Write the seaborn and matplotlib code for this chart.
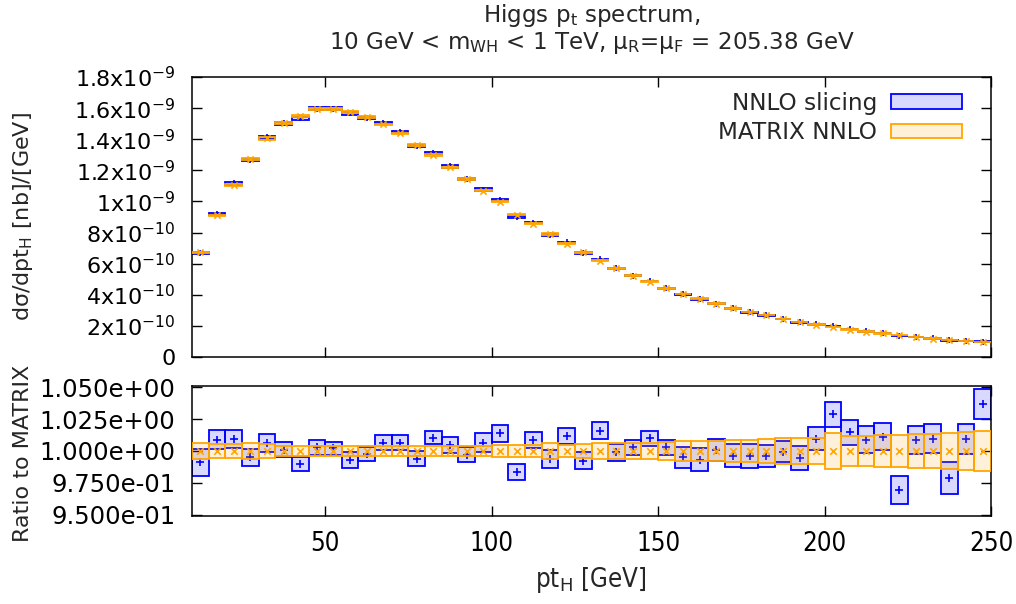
import numpy as np
import pandas as pd
import matplotlib
matplotlib.use("Agg")
import matplotlib.pyplot as plt
import seaborn as sns
from matplotlib.patches import Patch

# ---------------- data ----------------
bin_centers = [12.5, 17.5, 22.5, 27.5, 32.5, 37.5, 42.5, 47.5, 52.5, 57.5, 62.5, 67.5,
               72.5, 77.5, 82.5, 87.5, 92.5, 97.5, 102.5, 107.5, 112.5, 117.5, 122.5, 127.5,
               132.5, 137.5, 142.5, 147.5, 152.5, 157.5, 162.5, 167.5, 172.5, 177.5, 182.5, 187.5,
               192.5, 197.5, 202.5, 207.5, 212.5, 217.5, 222.5, 227.5, 232.5, 237.5, 242.5, 247.5]
bin_width = 5.0

# MATRIX NNLO differential cross section [units of 1e-10 nb/GeV]
matrix_vals_e10 = [6.73, 9.11, 11.05, 12.72, 14.05, 15.02, 15.50, 15.92, 15.94, 15.77, 15.40, 14.95,
                   14.37, 13.65, 13.00, 12.19, 11.45, 10.69, 9.98, 9.15, 8.57, 7.90, 7.28, 6.73,
                   6.19, 5.70, 5.21, 4.84, 4.41, 4.05, 3.75, 3.43, 3.13, 2.89, 2.70, 2.44,
                   2.25, 2.08, 1.93, 1.76, 1.63, 1.52, 1.41, 1.29, 1.18, 1.09, 1.03, 0.96]

# NNLO slicing / MATRIX ratio
ratio_slicing = [0.991, 1.009, 1.0095, 0.995, 1.006, 1.001, 0.990, 1.003, 1.002, 0.993, 0.998, 1.0066,
                 1.0066, 0.994, 1.0105, 1.0047, 0.997, 1.0066, 1.0139, 0.9837, 1.0087, 0.994, 1.0118, 0.9923,
                 1.0158, 0.9989, 1.003, 1.010, 1.003, 0.995, 0.993, 1.0008, 0.9963, 0.9963, 0.996, 0.9995,
                 0.9945, 1.0095, 1.0287, 1.0147, 1.009, 1.0113, 0.9692, 1.0087, 1.0097, 0.979, 1.0095, 1.037]

# relative uncertainties
relerr_slicing = [0.0105, 0.0076, 0.0070, 0.0065, 0.0070, 0.0060, 0.0053, 0.0060, 0.0050, 0.0060, 0.0055, 0.0060,
                  0.0060, 0.0060, 0.0050, 0.0060, 0.0060, 0.0072, 0.0066, 0.0063, 0.0060, 0.0070, 0.0060, 0.0066,
                  0.0066, 0.0066, 0.0060, 0.0060, 0.0060, 0.0080, 0.0090, 0.0085, 0.0090, 0.0095, 0.0088, 0.0080,
                  0.0095, 0.0090, 0.0099, 0.0099, 0.0105, 0.0105, 0.0110, 0.0113, 0.0114, 0.0125, 0.0120, 0.0120]
relerr_matrix = [0.0066, 0.0053, 0.0053, 0.0059, 0.0053, 0.0040, 0.0040, 0.0039, 0.0040, 0.0039, 0.0040, 0.0040,
                 0.0041, 0.0041, 0.0042, 0.0042, 0.0043, 0.0043, 0.0044, 0.0044, 0.0045, 0.0060, 0.0050, 0.0052,
                 0.0060, 0.0064, 0.0066, 0.0066, 0.0070, 0.0075, 0.0079, 0.0082, 0.0088, 0.0088, 0.0096, 0.0100,
                 0.0105, 0.0105, 0.0141, 0.0115, 0.0115, 0.0125, 0.0125, 0.0133, 0.0133, 0.0143, 0.0151, 0.0155]

top_yticks = [0, 2e-10, 4e-10, 6e-10, 8e-10, 1e-9, 1.2e-9, 1.4e-9, 1.6e-9, 1.8e-9]
top_yticklabels = ["0", "2x10$^{-10}$", "4x10$^{-10}$", "6x10$^{-10}$", "8x10$^{-10}$",
                   "1x10$^{-9}$", "1.2x10$^{-9}$", "1.4x10$^{-9}$", "1.6x10$^{-9}$", "1.8x10$^{-9}$"]
ratio_yticks = [0.95, 0.975, 1.0, 1.025, 1.05]
ratio_yticklabels = ["9.500e-01", "9.750e-01", "1.000e+00", "1.025e+00", "1.050e+00"]
xticks = [50, 100, 150, 200, 250]
xticklabels = ["50", "100", "150", "200", "250"]

# ---------------- derived table ----------------
df = pd.DataFrame({
    "pt": bin_centers,
    "matrix": np.array(matrix_vals_e10) * 1e-10,
    "ratio": ratio_slicing,
    "rs": relerr_slicing,
    "rm": relerr_matrix,
})
df["slicing"] = df["matrix"] * df["ratio"]
df["slicing_err"] = df["slicing"] * df["rs"]
df["matrix_err"] = df["matrix"] * df["rm"]
df["one"] = 1.0

# ---------------- style ----------------
sns.set_theme(style="ticks")
plt.rcParams["font.family"] = ["DejaVu Sans"]
plt.rcParams["mathtext.fontset"] = "dejavusans"
FS = 16

BLUE = (0.0, 0.0, 1.0)
ORANGE = (1.0, 0.647, 0.0)
BLUE_FILL = (0.0, 0.0, 1.0, 0.15)
ORANGE_FILL = (1.0, 0.647, 0.0, 0.15)

W, H = 1016, 604
fig = plt.figure(figsize=(W / 100, H / 100), dpi=100)
L, R = 192 / W, 991 / W
ax1 = fig.add_axes([L, 1 - 357 / H, R - L, 280 / H])
ax2 = fig.add_axes([L, 1 - 516 / H, R - L, 130 / H])

# ---- top panel ----
ax1.bar(df["pt"], 2 * df["slicing_err"], bottom=df["slicing"] - df["slicing_err"], width=bin_width,
        facecolor=BLUE_FILL, edgecolor=BLUE, linewidth=1.3, zorder=2)
sns.scatterplot(data=df, x="pt", y="slicing", marker="+", s=25, color=BLUE, linewidth=1.2,
                ax=ax1, zorder=3, legend=False)
ax1.bar(df["pt"], 2 * df["matrix_err"], bottom=df["matrix"] - df["matrix_err"], width=bin_width,
        facecolor=ORANGE_FILL, edgecolor=ORANGE, linewidth=1.3, zorder=4)
sns.scatterplot(data=df, x="pt", y="matrix", marker="x", s=20, color=ORANGE, linewidth=1.2,
                ax=ax1, zorder=5, legend=False)

# ---- ratio panel ----
ax2.bar(df["pt"], 2 * df["rs"], bottom=df["ratio"] - df["rs"], width=bin_width,
        facecolor=BLUE_FILL, edgecolor=BLUE, linewidth=1.3, zorder=2)
sns.scatterplot(data=df, x="pt", y="ratio", marker="+", s=28, color=BLUE, linewidth=1.2,
                ax=ax2, zorder=3, legend=False)
ax2.bar(df["pt"], 2 * df["rm"], bottom=df["one"] - df["rm"], width=bin_width,
        facecolor=ORANGE_FILL, edgecolor=ORANGE, linewidth=1.3, zorder=4)
sns.scatterplot(data=df, x="pt", y="one", marker="x", s=22, color=ORANGE, linewidth=1.2,
                ax=ax2, zorder=5, legend=False)

for ax in (ax1, ax2):
    ax.set_xlim(10, 250)
    ax.set_xticks(xticks)
    ax.tick_params(direction="in", length=7, width=1.0, top=True, right=True,
                   labelsize=FS, colors="black", pad=12)
    for sp in ax.spines.values():
        sp.set_visible(True)
        sp.set_linewidth(1.1)
        sp.set_color("black")
    ax.set_xlabel("")
    ax.set_ylabel("")
    ax.grid(False)

ax1.set_ylim(0, 1.8e-9)
ax1.set_yticks(top_yticks)
ax1.set_yticklabels(top_yticklabels, fontsize=16)
ax1.set_xticklabels([])

ax2.set_ylim(0.949, 1.051)
ax2.set_yticks(ratio_yticks)
ax2.set_yticklabels(ratio_yticklabels, fontsize=17.5)
ax2.set_xticklabels(xticklabels, fontstretch="condensed", fontsize=18.5)
ax2.tick_params(axis="x", pad=11)

# legend
handles = [Patch(facecolor=BLUE_FILL, edgecolor=BLUE, linewidth=1.3, label="NNLO slicing"),
           Patch(facecolor=ORANGE_FILL, edgecolor=ORANGE, linewidth=1.3, label="MATRIX NNLO")]
ax1.legend(handles=handles, loc="upper right", bbox_to_anchor=((962 - 192) / 799, 1 - 15 / 280),
           frameon=False, markerfirst=False, fontsize=16.7, handlelength=3.05, handleheight=0.6,
           handletextpad=0.6, labelspacing=0.27, borderpad=0, borderaxespad=0)

# labels
fig.text(23 / W, 1 - 217 / H, "dσ/dpt$_{\\mathrm{H}}$ [nb]/[GeV]", rotation=90,
         ha="center", va="center", fontsize=FS)
fig.text(23 / W, 1 - 453 / H, "Ratio to MATRIX", rotation=90,
         ha="center", va="center", fontsize=FS)
fig.text(591 / W, 1 - 580 / H, "pt$_{\\mathrm{H}}$ [GeV]", ha="center", va="center",
         fontsize=18.5, fontstretch="condensed")
fig.text(592 / W, 1 - 2 / H,
         "Higgs p$_{\\mathrm{t}}$ spectrum,\n10 GeV < m$_{\\mathrm{WH}}$ < 1 TeV, "
         "μ$_{\\mathrm{R}}$=μ$_{\\mathrm{F}}$ = 205.38 GeV",
         ha="center", va="top", fontsize=16.6, linespacing=1.05)

fig.savefig("out.png", dpi=100)
